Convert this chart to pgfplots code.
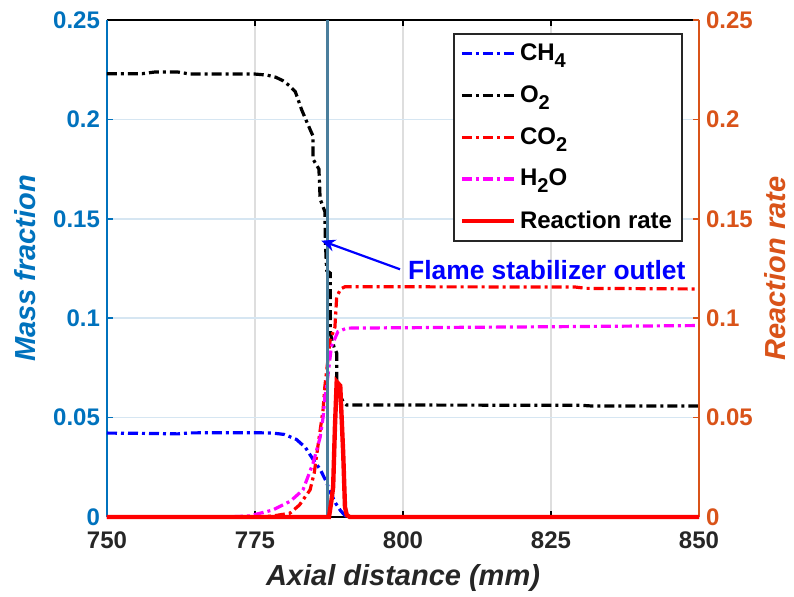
\documentclass[border=0pt]{standalone}
\usepackage{fontspec}
\setmainfont{Liberation Sans}
\usepackage{pgfplots}
\pgfplotsset{compat=1.18}
\usetikzlibrary{arrows.meta}
\definecolor{leftc}{RGB}{0,114,189}
\definecolor{rightc}{RGB}{217,83,25}
\definecolor{axgray}{RGB}{38,38,38}
\definecolor{vline}{RGB}{74,126,156}
\definecolor{vgrid}{RGB}{222,222,222}
\definecolor{hgrid}{RGB}{214,230,242}
\definecolor{mblue}{RGB}{0,0,255}
\definecolor{mred}{RGB}{255,0,0}
\definecolor{mmag}{RGB}{255,0,255}
\tikzset{
  mdash/.style={line width=1.6pt, dash pattern=on 5pt off 2pt on 1.5pt off 2pt},
}
\newcommand{\sub}[1]{\raisebox{-0.55ex}{\fontsize{10}{12}\selectfont #1}}
\pgfplotsset{
  common/.style={width=296pt, height=248.5pt, scale only axis,
    xmin=750, xmax=850, ymin=0, ymax=0.25, clip=false,
    tick align=inside, major tick length=3pt,
    axis line style={line width=0.8pt},
    tick label style={font=\fontsize{12}{14}\selectfont\bfseries},
    label style={font=\fontsize{14.5}{17}\selectfont\bfseries\itshape},
    ytick={0,0.05,0.1,0.15,0.2,0.25},
    yticklabels={0,0.05,0.1,0.15,0.2,0.25}},
}

\begin{document}
\begin{tikzpicture}
\begin{axis}[common,
  axis y line*=left,
  xtick={750,775,800,825,850},
  xticklabels={750,775,800,825,850},
  x tick label style={text=axgray, yshift=-4pt},
  y tick label style={text=leftc},
  ytick style={leftc, line width=0.8pt},
  xtick style={black, line width=0.8pt},
  y axis line style={leftc, line width=1pt},
  grid=major,
  x grid style={vgrid, line width=0.8pt},
  y grid style={hgrid, line width=0.8pt},
  xlabel={Axial distance (mm)},
  xlabel style={text=axgray, at={(axis description cs:0.5,-0.1227)}, anchor=center},
  ylabel={Mass fraction},
  ylabel style={text=leftc, at={(axis description cs:-0.1385,0.5)}, anchor=center},
]
% CH4
\addplot[mblue, mdash] coordinates {
(750,0.0422) (755,0.0421) (760,0.0419) (762,0.0418) (764,0.0423) (770,0.0424)
(775,0.0424) (778,0.0422) (780,0.0415) (782,0.039) (783.5,0.035) (784.8,0.029)
(786,0.024) (787,0.018) (787.8,0.012) (788.6,0.007) (789.5,0.003) (790.3,0.0005)
(791,0) (850,0)};
% O2
\addplot[black, mdash] coordinates {
(750,0.2230) (756,0.2230) (758,0.2238) (762,0.2238) (764,0.2228) (775,0.2228)
(777,0.2223) (778.5,0.2212) (779.7,0.2195) (780.8,0.217) (781.8,0.214)
(782.9,0.2047) (784,0.197) (784.8,0.1916) (784.8,0.18) (785.8,0.175) (786,0.16)
(786.8,0.1536) (786.9,0.138) (787.1,0.124) (787.7,0.1227) (787.7,0.0925)
(788.4,0.085) (788.8,0.0825) (788.8,0.064) (789.9,0.058) (790.5,0.0563)
(800,0.0563) (830,0.0562) (832,0.0558) (850,0.0558)};
% CO2
\addplot[mred, mdash] coordinates {
(750,0) (775,0) (778,0.0005) (780.9,0.0019) (782.5,0.006) (784.3,0.0136)
(785,0.022) (785.6,0.035) (786.5,0.054) (786.8,0.0656) (787.7,0.089)
(788.5,0.0955) (788.8,0.1108) (789.5,0.1148) (790.2,0.1158) (829,0.1157)
(831,0.115) (850,0.1147)};
% H2O
\addplot[mmag, mdash] coordinates {
(750,0) (770,0) (774,0.0005) (778,0.0035) (781,0.008) (783.1,0.0136)
(784.8,0.027) (786,0.040) (786.5,0.050) (786.8,0.0605) (787.1,0.0655)
(787.9,0.0857) (789,0.0932) (790.5,0.0950) (800,0.0952) (825,0.0957) (850,0.0963)};
% flame stabilizer outlet
\addplot[vline, line width=1.5pt] coordinates {(787.3,0) (787.3,0.25)};
\draw[mblue, line width=1.1pt, -{Stealth[length=7pt,width=6pt]}]
  (axis cs:799.5,0.1246) -- (axis cs:786.2,0.139);
\node[anchor=west, text=mblue, inner sep=0pt,
  font=\fontsize{13.2}{15}\selectfont\bfseries]
  at (axis cs:800.8,0.1243) {Flame stabilizer outlet};
\coordinate (bl) at (rel axis cs:0,0);
\coordinate (tr) at (rel axis cs:1,1);
\end{axis}

\begin{axis}[common,
  axis y line*=right,
  axis x line=none,
  xtick=\empty,
  y tick label style={text=rightc},
  ytick style={rightc, line width=0.8pt},
  y axis line style={rightc, line width=1pt},
  ylabel={Reaction rate},
  ylabel style={text=rightc, at={(axis description cs:1.128,0.5)}, anchor=center},
  legend style={at={(1,1)}, anchor=north east, xshift=-8pt, yshift=-6.5pt,
    draw=axgray, line width=0.9pt, fill=white,
    font=\fontsize{12}{14}\selectfont\bfseries,
    row sep=7pt, inner sep=3pt, inner xsep=3pt},
  legend cell align=left,
  legend image code/.code={\draw[#1] (0pt,0pt) -- (26pt,0pt);},
]
\addlegendimage{mblue, mdash}
\addlegendentry{CH\sub{4}}
\addlegendimage{black, mdash}
\addlegendentry{O\sub{2}}
\addlegendimage{mred, mdash}
\addlegendentry{CO\sub{2}}
\addlegendimage{mmag, mdash}
\addlegendentry{H\sub{2}O}
\addplot[mred, line width=2.2pt] coordinates {
(750,0) (787.5,0) (787.9,0.008) (788.2,0.015) (788.5,0.045) (788.8,0.068)
(789.4,0.066) (789.9,0.032) (790.2,0.005) (790.5,0.001) (791,0) (850,0)};
\addlegendentry{Reaction rate}
\end{axis}
\pgfresetboundingbox
\useasboundingbox ([xshift=-53.5pt,yshift=-40pt]bl) rectangle ([xshift=47.5pt,yshift=10pt]tr);
\end{tikzpicture}
\end{document}
